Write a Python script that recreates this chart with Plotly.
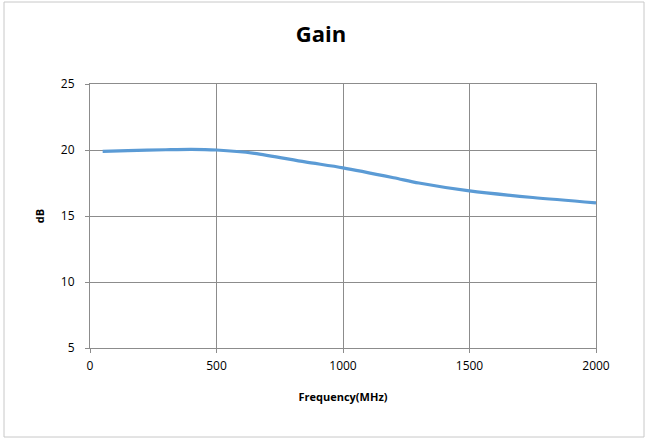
import plotly.graph_objects as go

freq_mhz = [50, 150, 300, 400, 500, 650, 850, 1000, 1200, 1300, 1500, 1750, 2000]
gain_db = [19.9, 19.95, 20.02, 20.05, 20.0, 19.75, 19.1, 18.65, 17.9, 17.5, 16.9, 16.4, 16.0]

x_ticks = [0, 500, 1000, 1500, 2000]
y_ticks = [5, 10, 15, 20, 25]

W, H = 648, 440
ml, mr, mt, mb = 90, 52, 84, 92
pw, ph = W - ml - mr, H - mt - mb

fig = go.Figure()
fig.add_trace(go.Scatter(
    x=freq_mhz, y=gain_db, mode="lines",
    line=dict(color="#5B9BD5", width=3.2, shape="spline", smoothing=0.8),
    hoverinfo="skip", showlegend=False,
))

axis_common = dict(
    showgrid=True, gridcolor="#8C8C8C", gridwidth=1,
    showline=True, linecolor="#8C8C8C", linewidth=1, mirror=True,
    ticks="outside", ticklen=4, tickcolor="#8C8C8C",
    zeroline=False,
    tickfont=dict(family="Open Sans", size=12, color="#000000"),
)

fig.update_layout(
    width=W, height=H,
    margin=dict(l=ml, r=mr, t=mt, b=mb),
    paper_bgcolor="white", plot_bgcolor="white",
    title=dict(text="<b>Gain</b>", x=(321) / W, xanchor="center",
               y=1 - 34 / H, yanchor="middle",
               font=dict(family="Open Sans", size=22, color="#000000")),
    xaxis=dict(range=[0, 2000], tickvals=x_ticks, ticktext=[str(v) for v in x_ticks],
               ticklabelstandoff=3,
               title=dict(text="<b>Frequency(MHz)</b>", standoff=19,
                          font=dict(family="Open Sans", size=11, color="#000000")),
               **axis_common),
    yaxis=dict(range=[5, 25], tickvals=y_ticks, ticktext=[str(v) for v in y_ticks],
               ticklabelstandoff=8,
               title=dict(text="<b>dB</b>", standoff=14,
                          font=dict(family="Open Sans", size=11, color="#000000")),
               **axis_common),
    shapes=[dict(type="rect", xref="paper", yref="paper",
                 x0=(4 - ml) / pw, x1=(644 - ml) / pw,
                 y0=(H - mb - 437) / ph, y1=(H - mb - 2) / ph,
                 line=dict(color="#C8C8C8", width=1), fillcolor="rgba(0,0,0,0)",
                 layer="below")],
)

fig.write_html("out.html", config={"displayModeBar": False},
               post_script="document.body.style.margin='0px';document.body.style.padding='0px';")
